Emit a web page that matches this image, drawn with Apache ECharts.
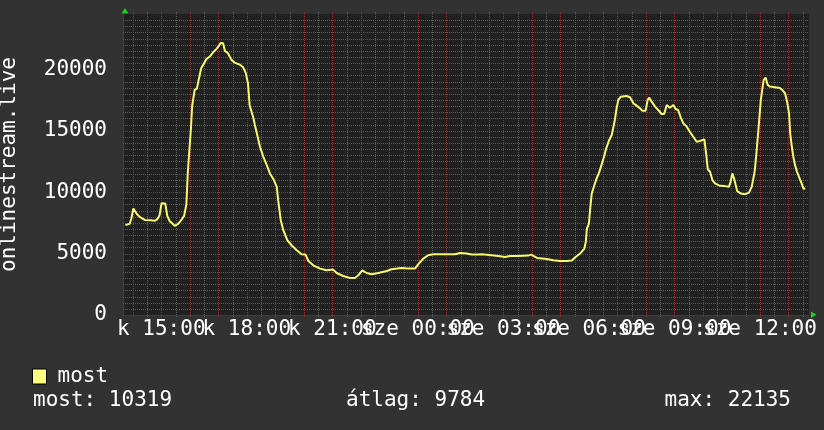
<!DOCTYPE html>
<html><head><meta charset="utf-8">
<script src="https://cdn.jsdelivr.net/npm/echarts@6/dist/echarts.min.js"></script>
<style>html,body{margin:0;padding:0;background:#323232}#c{width:824px;height:430px}</style>
</head><body><div id="c"></div>
<script>
// time in hours since midnight of the first day (24+ = next day)
const timeHours = [
  13.74,13.89,13.95,14.02,14.09,14.15,14.24,14.42,14.65,14.77,
  14.86,14.94,15.01,15.14,15.21,15.29,15.39,15.47,15.59,15.70,
  15.80,15.88,15.93,16.00,16.04,16.08,16.17,16.25,16.31,16.40,
  16.47,16.58,16.70,16.81,16.93,17.02,17.08,17.17,17.23,17.34,
  17.46,17.57,17.75,17.87,17.96,18.04,18.10,18.22,18.28,18.38,
  18.46,18.58,18.70,18.81,18.95,19.05,19.10,19.19,19.28,19.42,
  19.57,19.75,19.92,20.06,20.16,20.33,20.57,20.80,21.03,21.15,
  21.38,21.62,21.79,21.91,22.05,22.20,22.38,22.61,22.91,23.08,
  23.27,23.43,23.66,23.90,24.01,24.19,24.36,24.54,24.95,25.30,
  25.48,25.71,25.89,26.12,26.24,26.59,26.82,27.06,27.23,27.52,
  27.87,27.97,28.18,28.28,28.52,28.75,28.98,29.22,29.40,29.51,
  29.69,29.84,29.89,29.93,30.00,30.04,30.10,30.19,30.27,30.36,
  30.45,30.53,30.60,30.70,30.80,30.85,30.91,30.97,31.03,31.12,
  31.32,31.44,31.56,31.67,31.79,31.87,31.99,32.06,32.12,32.20,
  32.32,32.43,32.55,32.64,32.73,32.84,32.96,33.04,33.13,33.22,
  33.31,33.43,33.54,33.66,33.78,33.89,34.05,34.11,34.17,34.25,
  34.33,34.42,34.60,34.77,34.91,34.97,35.03,35.10,35.15,35.20,
  35.32,35.47,35.61,35.71,35.78,35.82,35.88,35.94,36.00,36.03,
  36.08,36.13,36.20,36.27,36.35,36.53,36.70,36.78,36.88,36.95,
  37.02,37.06,37.11,37.17,37.23,37.30,37.37,37.46,37.53,37.59
];
const viewers = [
  7330,7415,7855,8670,8650,8205,7985,7740,7716,7660,
  7800,8124,9103,9078,8067,7660,7447,7251,7415,7716,
  8067,8997,11607,11688,15196,16960,18320,18426,19135,20090,
  20220,20824,21035,21362,21640,21909,22135,22120,21500,21310,
  20766,20546,20383,20170,19730,18866,17040,16142,15500,14510,
  13695,12880,12200,11525,10980,10432,9347,7716,6900,6085,
  5677,5270,4943,4918,4396,4046,3776,3638,3695,3418,
  3173,3010,3010,3230,3638,3418,3312,3418,3581,3720,
  3776,3826,3776,3776,4127,4592,4861,4943,4943,4943,
  5049,5000,4918,4918,4943,4861,4804,4723,4804,4804,
  4837,4918,4641,4617,4560,4453,4396,4396,4429,4674,
  5000,5408,5946,7039,7447,8532,9894,10571,11117,11607,
  12284,12880,13507,14185,14650,15196,15873,16827,17504,17773,
  17830,17724,17235,17040,16827,16632,16632,17504,17692,17365,
  16960,16688,16362,16362,17096,16876,17096,16770,16688,16090,
  15603,15330,14920,14510,14103,14160,14298,13157,11852,11656,
  10980,10710,10514,10490,10432,10840,11525,11036,10980,10082,
  9894,9837,9943,10432,11248,11794,13287,14920,15057,17504,
  18320,19135,19325,18728,18590,18540,18483,18320,18050,17365,
  16420,14790,13835,12880,12200,11656,11248,10710,10270,10319
];
const xTickHours = [15, 18, 21, 24, 27, 30, 33, 36];
const xTickLabels = ['k 15:00','k 18:00','k 21:00','sze 00:00','sze 03:00','sze 06:00','sze 09:00','sze 12:00'];
const yTickValues = [0, 5000, 10000, 15000, 20000];
const seriesName = 'most';
const axisTitle = 'onlinestream.live';
const statLabels = ['most', 'átlag', 'max'];
const statValues = [10319, 9784, 22135];

const FONT = 'DejaVu Sans Mono';
const FS = 21;
const RED = '#843838';
const GRAY = '#5a5a5a';
const X_MIN = 13.657, X_MAX = 37.72, Y_MAX = 24500;

// grid lines: [x, y, kind]  kind 0 = h minor, 1 = h major, 2 = v minor, 3 = v major
const gridItems = [];
for (let v = 500; v < Y_MAX; v += 500) gridItems.push([X_MIN, v, v % 5000 === 0 ? 1 : 0]);
for (let h = 14; h <= 37.5; h += 0.5) gridItems.push([h, 0, h % 1 === 0 ? 3 : 2]);

function gridRender(params, api) {
  const cs = params.coordSys;
  const kind = api.value(2);
  const p = api.coord([api.value(0), api.value(1)]);
  const major = kind === 1 || kind === 3;
  const style = { stroke: major ? RED : GRAY, lineWidth: 1, lineDash: [1, 1], fill: null };
  if (kind >= 2) {
    const x = Math.round(p[0]) + 0.5;
    return { type: 'line', shape: { x1: x, y1: cs.y - 2, x2: x, y2: cs.y + cs.height + 2 }, style: style, z2: major ? 2 : 1 };
  }
  const y = Math.round(p[1]) + 0.5;
  return { type: 'line', shape: { x1: cs.x, y1: y, x2: cs.x + cs.width, y2: y }, style: style, z2: major ? 2 : 1 };
}
function labelRender(params, api) {
  const p = api.coord([api.value(0), 0]);
  return { type: 'text', x: p[0], y: p[1] + 4, style: { text: xTickLabels[params.dataIndex], fill: '#ffffff', font: FS + 'px "' + FONT + '"', align: 'center', verticalAlign: 'top' } };
}

const chart = echarts.init(document.getElementById('c'), null, { renderer: 'canvas' });
const textStyle = { color: '#ffffff', fontFamily: FONT, fontSize: FS };

chart.setOption({
  backgroundColor: '#323232',
  animation: false,
  grid: { left: 123, right: 15, top: 14, bottom: 115, show: true, backgroundColor: '#212121', borderWidth: 0, outerBoundsMode: 'none', containLabel: false },
  legend: {
    data: [seriesName], left: 32, top: 366, padding: 0, icon: 'rect', itemWidth: 14, itemHeight: 15,
    selectedMode: false,
    itemStyle: { color: '#ffff80', borderColor: '#000000', borderWidth: 1 },
    textStyle: { color: '#ffffff', fontFamily: FONT, fontSize: FS, padding: [0, 0, 0, 6] }
  },
  xAxis: {
    type: 'value', min: X_MIN, max: X_MAX,
    axisLine: { show: true, lineStyle: { color: '#3e3e3e' } },
    axisTick: { show: false }, splitLine: { show: false }, axisLabel: { show: false }
  },
  yAxis: {
    type: 'value', min: 0, max: Y_MAX,
    name: axisTitle, nameLocation: 'middle', nameGap: 103, nameRotate: 90,
    nameTextStyle: { color: '#ffffff', fontFamily: FONT, fontSize: FS },
    axisLine: { show: true, lineStyle: { color: '#3e3e3e' } }, axisTick: { show: false },
    splitLine: { show: false },
    axisLabel: Object.assign({ customValues: yTickValues, margin: 16, formatter: v => String(v) }, textStyle)
  },
  series: [
    { type: 'custom', data: gridItems, renderItem: gridRender, silent: true, z: 1, clip: false, encode: { x: 0, y: 1 } },
    { type: 'custom', data: xTickHours.map(h => [h, 0]), renderItem: labelRender, silent: true, z: 2, clip: false, encode: { x: 0, y: 1 } },
    {
      name: seriesName, type: 'line', z: 5,
      data: timeHours.map((t, i) => [t, viewers[i]]),
      showSymbol: false, symbol: 'none',
      lineStyle: { color: '#f8f870', width: 2 },
      itemStyle: { color: '#ffff80' }
    }
  ],
  graphic: [
    { type: 'polygon', shape: { points: [[125, 8], [121.5, 13.5], [128.5, 13.5]] }, style: { fill: '#1fd01f' } },
    { type: 'polygon', shape: { points: [[811, 311.5], [811, 318], [816.5, 314.7]] }, style: { fill: '#1fd01f' } },
    { type: 'text', left: 33, top: 390, style: { text: statLabels[0] + ': ' + statValues[0], fill: '#fff', font: FS + 'px "' + FONT + '"' } },
    { type: 'text', left: 346, top: 390, style: { text: statLabels[1] + ': ' + statValues[1], fill: '#fff', font: FS + 'px "' + FONT + '"' } },
    { type: 'text', right: 33, top: 390, style: { text: statLabels[2] + ': ' + statValues[2], fill: '#fff', font: FS + 'px "' + FONT + '"' } }
  ]
});
</script>
</body></html>
